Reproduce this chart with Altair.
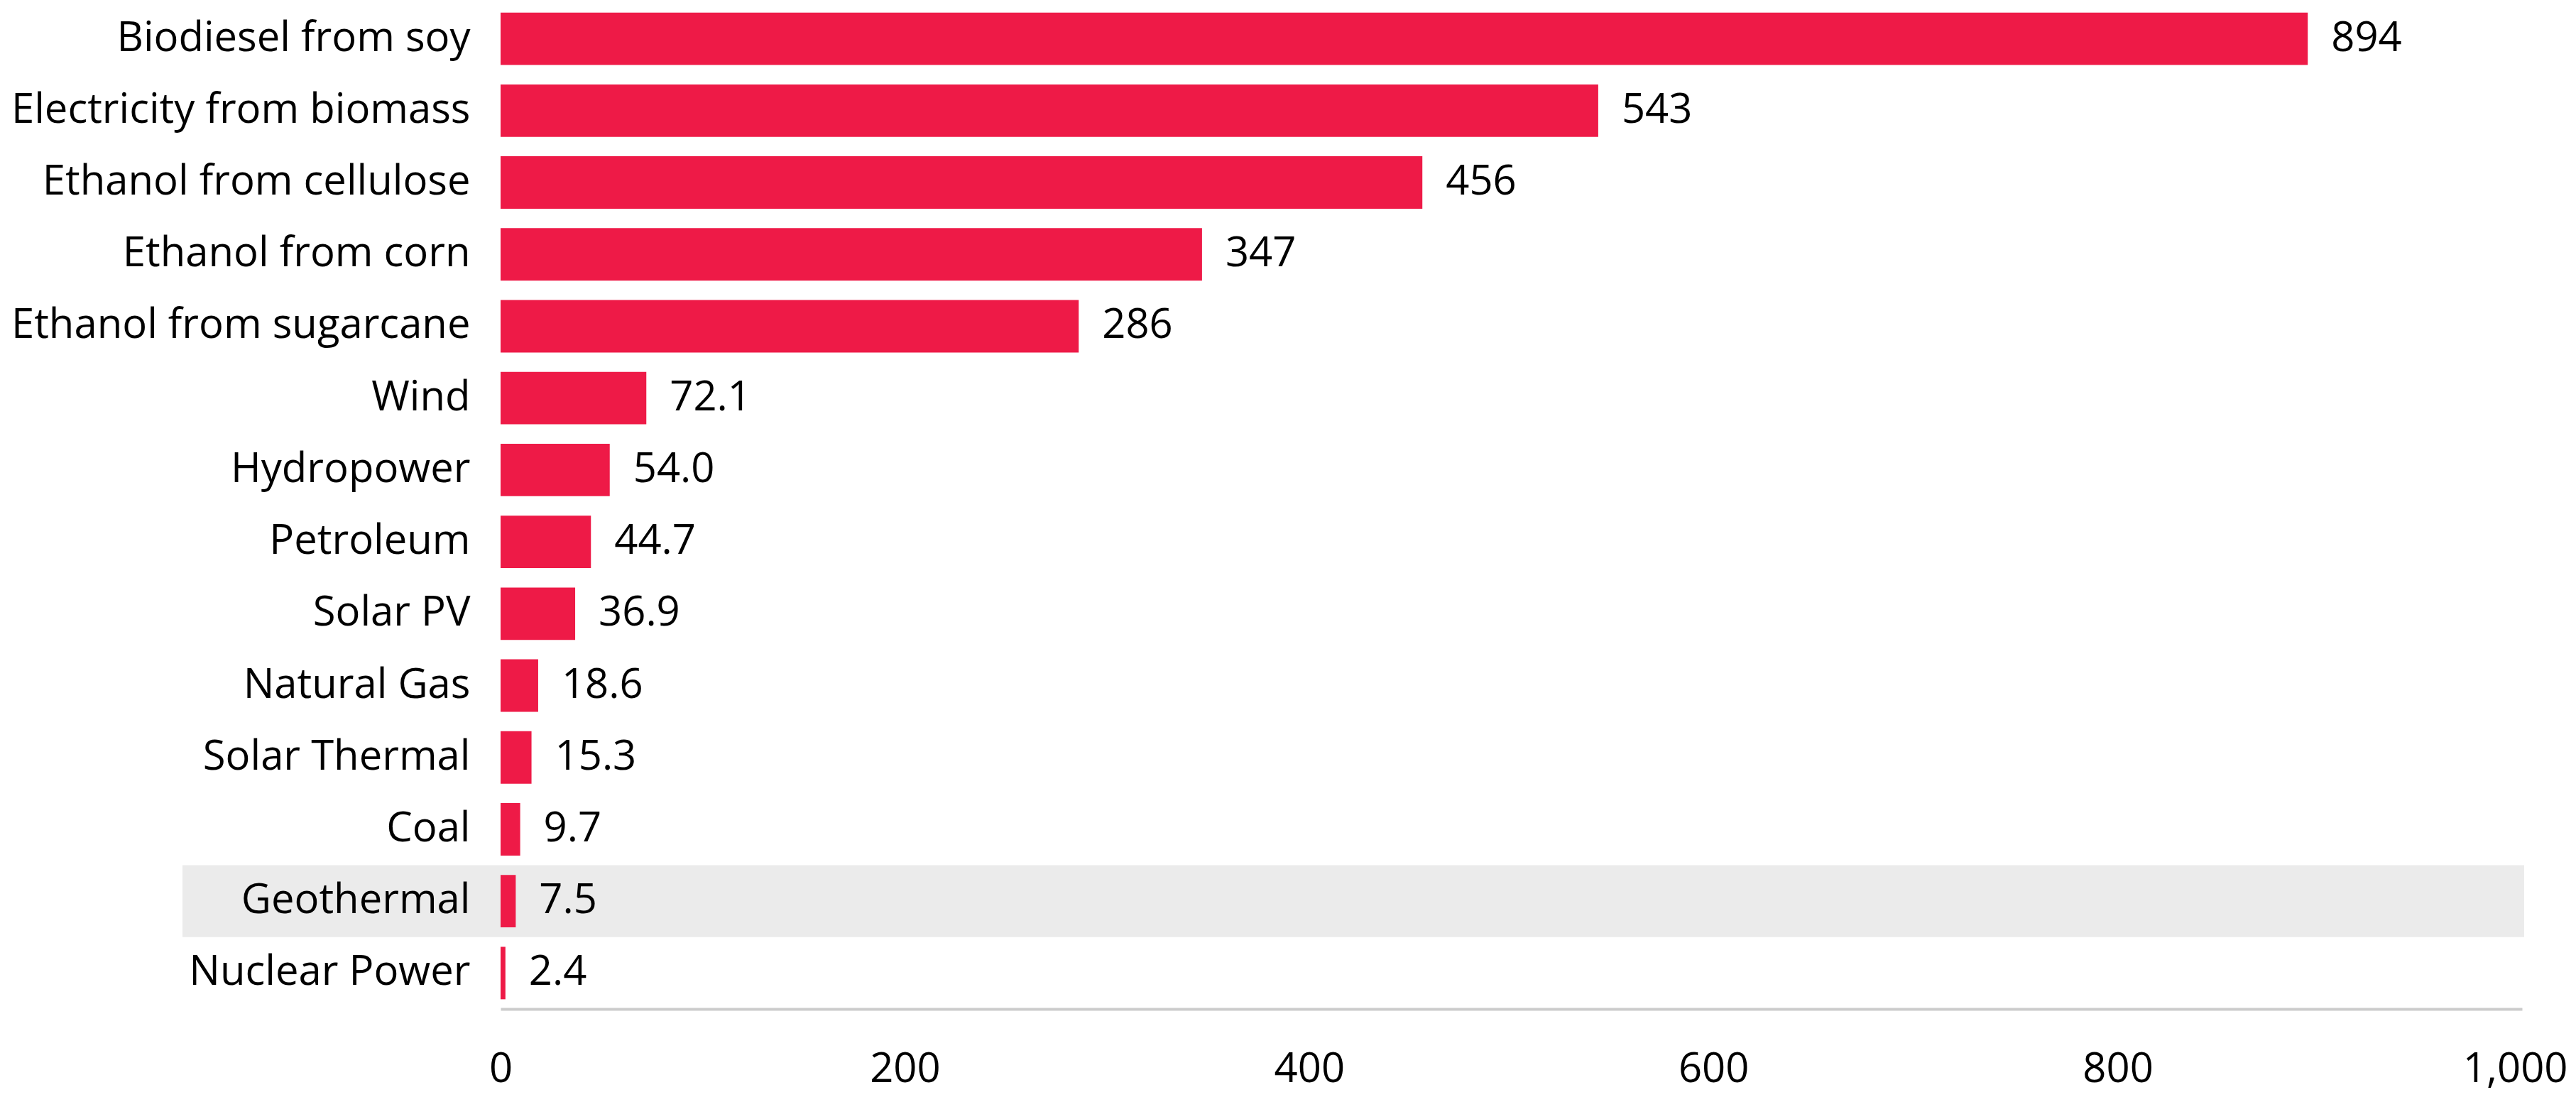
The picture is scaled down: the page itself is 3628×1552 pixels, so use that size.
import altair as alt
import pandas as pd

categories = [
    "Biodiesel from soy", "Electricity from biomass", "Ethanol from cellulose",
    "Ethanol from corn", "Ethanol from sugarcane", "Wind", "Hydropower",
    "Petroleum", "Solar PV", "Natural Gas", "Solar Thermal", "Coal",
    "Geothermal", "Nuclear Power",
]
values = [894, 543, 456, 347, 286, 72.1, 54.0, 44.7, 36.9, 18.6, 15.3, 9.7, 7.5, 2.4]
value_labels = ["894", "543", "456", "347", "286", "72.1", "54.0", "44.7",
                "36.9", "18.6", "15.3", "9.7", "7.5", "2.4"]
x_ticks = [0, 200, 400, 600, 800, 1000]
highlight = "Geothermal"

df = pd.DataFrame({"category": categories, "value": values, "label": value_labels})

PI = 0.27
y_enc = alt.Y(
    "category:N",
    sort=categories,
    scale=alt.Scale(domain=categories, range=[-4, 1413], paddingInner=PI, paddingOuter=PI / 2),
    axis=alt.Axis(
        title=None, domain=False, ticks=False, tickSize=0,
        labelFont="Open Sans", labelFontSize=58, labelColor="#000000",
        labelPadding=43, labelLimit=0, zindex=1,
    ),
)

x_scale = alt.Scale(domain=[0, 1000], nice=False)

base = alt.Chart(df)

hl = base.transform_filter(alt.datum.category == highlight).mark_bar(
    color="#ebebeb", height=alt.RelativeBandSize(1 / (1 - PI))
).encode(
    y=y_enc,
    x=alt.value(-448),
    x2=alt.value(2850),
)

bars = base.mark_bar(color="#EE1A47").encode(
    y=y_enc,
    x=alt.X(
        "value:Q",
        scale=x_scale,
        axis=alt.Axis(
            values=x_ticks, format=",d", title=None, grid=False, ticks=False,
            domainColor="#cccccc", domainWidth=4,
            labelFont="Open Sans", labelFontSize=58, labelColor="#000000",
            labelPadding=56,
            labelAlign=alt.condition(alt.datum.value == 1000, alt.value("right"), alt.value("center")),
            labelOffset=alt.condition(alt.datum.value == 1000, alt.value(64), alt.value(0)),
        ),
    ),
)

text = base.mark_text(
    align="left", baseline="middle", dx=33,
    font="Open Sans", fontSize=58, color="#000000",
).encode(
    y=y_enc,
    x=alt.X("value:Q", scale=x_scale),
    text="label:N",
)

chart = alt.layer(hl, bars, text).properties(
    width=2847,
    height=1413,
    autosize=alt.AutoSizeParams(type="none"),
    padding={"left": 697, "top": 0, "right": 64, "bottom": 123},
).configure_view(stroke=None)

chart.save("out.html", embed_options={"renderer": "svg", "actions": False})
